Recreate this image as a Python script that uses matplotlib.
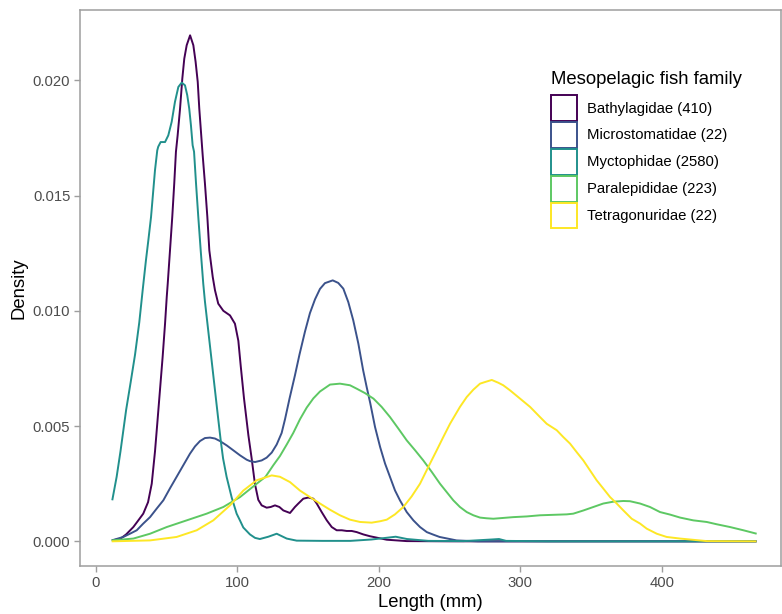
import matplotlib
matplotlib.use("Agg")
import matplotlib.pyplot as plt
from matplotlib.patches import Patch
from matplotlib.ticker import FormatStrFormatter

plt.rcParams['font.family'] = ['Liberation Sans', 'DejaVu Sans']

legend_title = "Mesopelagic fish family"
families = ["Bathylagidae (410)", "Microstomatidae (22)", "Myctophidae (2580)",
            "Paralepididae (223)", "Tetragonuridae (22)"]
colors = ["#440154", "#3B528B", "#21908C", "#5DC863", "#FDE725"]

bathy_x = [11.5, 17.2, 21.5, 26.6, 30.0, 33.6, 37.0, 39.6, 41.9, 43.5, 45.4, 47.3, 49.0, 50.2,
           50.9, 52.5, 54.1, 55.5, 56.7, 57.9, 59.6, 61.2, 62.6, 64.3, 66.7, 69.0, 70.6,
           72.1, 73.2, 74.4, 75.6, 77.2, 78.9, 80.3, 82.7, 84.3, 86.6, 90.2, 94.9, 98.4,
           100.8, 102.5, 104.8, 107.9, 110.2, 112.5, 114.9, 117.3, 120.8, 123.7,
           126.7, 129.8, 132.6, 137.3, 140.8, 143.2, 146.7, 150.2, 153.8, 156.2, 159.7,
           163.3, 166.8, 170.3, 173.9, 177.4, 180.9, 184.5, 189.1, 193.9, 205.7, 219.8,
           250, 300, 400, 467]
bathy_y = [0.00004, 0.0001, 0.0003, 0.00062, 0.0009, 0.0012, 0.0017, 0.0025, 0.0039, 0.0051,
           0.00655, 0.008, 0.00944, 0.0106, 0.01118, 0.01262, 0.01407, 0.01552, 0.0169,
           0.01761, 0.01877, 0.02007, 0.02094, 0.02152, 0.02195, 0.02152, 0.0208, 0.01993,
           0.01877, 0.01776, 0.01675, 0.01552, 0.01407, 0.01262, 0.01147, 0.01089, 0.01031,
           0.0100, 0.0098, 0.00944, 0.0087, 0.0076, 0.0062, 0.0046, 0.0036, 0.0025,
           0.0018, 0.00156, 0.00146, 0.00149, 0.00156, 0.00149, 0.00134, 0.00123,
           0.00149, 0.00164, 0.00185, 0.0019, 0.00185, 0.00164, 0.00127, 0.00091, 0.00062,
           0.00048, 0.00048, 0.00045, 0.00045, 0.0004, 0.0003, 0.00022, 0.00007, 0.00001,
           0, 0, 0, 0]

micro_x = [11.3, 19.5, 24.2, 29, 33.6, 38.4, 43.1, 47.8, 52.5, 57.2, 61.9, 66.6, 70.2, 73.7,
           77.2, 80.8, 84.3, 87.8, 92.6, 97.2, 102, 106.7, 109, 112.6, 117.3, 120.8, 124.4,
           127.9, 131.4, 133.8, 137, 140.8, 144, 147.9, 151.4, 155, 158.5, 162, 167.5,
           171.4, 175, 178.5, 182, 185.6, 189, 191.5, 194, 197.4, 201, 204.5, 208, 211.5,
           215, 219.8, 224.5, 229.2, 234, 238.6, 243, 255, 270, 300, 400, 467]
micro_y = [0.00004, 0.00019, 0.00033, 0.00048, 0.00077, 0.00105, 0.00142, 0.00178, 0.0023,
           0.0028, 0.0033, 0.0038, 0.00412, 0.00435, 0.00448, 0.0045, 0.00446, 0.00435,
           0.00416, 0.00395, 0.00373, 0.00354, 0.00348, 0.00344, 0.00351, 0.00363, 0.00385,
           0.0042, 0.0047, 0.0053, 0.0062, 0.0072, 0.0081, 0.0091, 0.0099, 0.0105,
           0.01095, 0.0112, 0.01132, 0.01121, 0.01096, 0.01038, 0.00959, 0.00858, 0.00742,
           0.00669, 0.006, 0.00496, 0.00409, 0.00337, 0.00279, 0.00221, 0.00178, 0.00127,
           0.00091, 0.00062, 0.0004, 0.00029, 0.00019, 0.00004, 0.0, 0.0, 0.0, 0.0]

mycto_x = [11.7, 14.8, 17.5, 21.5, 24.7, 27.8, 30.8, 33.2, 35.5, 37.2, 39.1, 40.7, 41.9,
           43.5, 44.2, 45.9, 49.0, 51.3, 53.7, 56.0, 58.4, 60.8, 63.1, 64.7, 66.1, 67.3,
           68.5, 69.5, 70.9, 72.5, 74.2, 76.0, 77.2, 79.6, 82.0, 84.3, 86.6, 88.3, 90.0,
           92.5, 96.1, 99.6, 102, 104.3, 109, 112.6, 116, 122, 127.9, 135, 142, 160, 180,
           195, 205, 212, 220, 235, 260, 280, 285, 290, 320, 400, 467]
mycto_y = [0.00178, 0.0028, 0.0039, 0.0057, 0.0069, 0.0081, 0.0095, 0.0109, 0.01219,
           0.01306, 0.01407, 0.01523, 0.0161, 0.01696, 0.01712, 0.01732, 0.01732, 0.01761,
           0.0182, 0.01906, 0.01971, 0.0199, 0.01978, 0.01935, 0.01877, 0.01805, 0.01718,
           0.0169, 0.01552, 0.01407, 0.01262, 0.01118, 0.0104, 0.0091, 0.0078, 0.00655,
           0.0053, 0.0044, 0.0036, 0.0028, 0.0019, 0.0012, 0.0009, 0.0006, 0.0003, 0.00015,
           0.0001, 0.0002, 0.00033, 0.00012, 0.00003, 0.00002, 0.00002, 0.00008, 0.00015,
           0.0002, 0.0001, 0.00002, 0.00001, 0.00008, 0.0001, 0.00002, 0.0, 0.0, 0.0]

para_x = [11.3, 26.6, 38.4, 50.2, 64.3, 78.4, 90.2, 102, 113.8, 120, 125.5, 130.2, 135,
          139.6, 144.4, 149.1, 153.8, 158.5, 165.6, 172.6, 179.7, 184.5, 190.3, 196.3, 202.1,
          208, 213.9, 219.8, 225.7, 231.5, 237.5, 243.3, 248, 252.7, 257.4, 262.2, 266.9,
          271.6, 276.3, 281, 295.1, 304.6, 314, 332.9, 337.5, 344.7, 351.7, 358.7, 365.8,
          372.9, 377.6, 384.7, 391.7, 398.8, 405.9, 413, 422.3, 431.8, 438.9, 448.3,
          457.7, 467.1]
para_y = [0.00004, 0.00012, 0.00033, 0.00062, 0.00091, 0.0012, 0.00149, 0.00192, 0.0025,
          0.0028, 0.0033, 0.0037, 0.0042, 0.0047, 0.0053, 0.0058, 0.0062, 0.0065, 0.0068,
          0.00684, 0.00677, 0.00662, 0.00643, 0.00619, 0.00583, 0.00539, 0.00489, 0.00438,
          0.00395, 0.00351, 0.00301, 0.0025, 0.00214, 0.00178, 0.00149, 0.00127, 0.00113,
          0.00103, 0.001, 0.00098, 0.00105, 0.00108, 0.00113, 0.00117, 0.0012, 0.00134,
          0.00149, 0.00164, 0.00172, 0.00175, 0.00174, 0.00164, 0.00149, 0.00127, 0.00116,
          0.00103, 0.00091, 0.00084, 0.00074, 0.00062, 0.00048, 0.00033]

tetra_x = [11.3, 38.4, 57.2, 71.4, 83.1, 94.9, 104.3, 113.8, 124.4, 130.2, 137.3, 144.4,
           151.4, 158.5, 165.6, 172.6, 179.7, 186.8, 195, 200.9, 205.7, 211.5, 217.4, 223.3,
           229.2, 235, 241, 245.6, 250.4, 257.4, 262.2, 266.9, 271.6, 275.1, 279.9, 284.5,
           288, 292.8, 299.9, 307, 314, 318.7, 325.8, 330.5, 335.2, 339.9, 344.6, 349.3,
           354, 358.7, 363.5, 368.2, 372.9, 378.8, 384.7, 389.4, 396.5, 403.5, 413, 431.8,
           467]
tetra_y = [0.0, 0.00004, 0.00019, 0.00048, 0.00091, 0.00156, 0.0022, 0.00265, 0.00286,
           0.0028, 0.00257, 0.0022, 0.00192, 0.00164, 0.00137, 0.00113, 0.00094, 0.00084,
           0.00081, 0.00087, 0.00094, 0.00117, 0.00149, 0.00195, 0.0025, 0.00322, 0.00395,
           0.00452, 0.0051, 0.00583, 0.00626, 0.00658, 0.00684, 0.00691, 0.007, 0.00688,
           0.00677, 0.00655, 0.00619, 0.00583, 0.00539, 0.0051, 0.00482, 0.00452, 0.00424,
           0.00387, 0.00351, 0.00308, 0.00265, 0.00229, 0.00192, 0.00164, 0.00134, 0.00098,
           0.00077, 0.00055, 0.00033, 0.00019, 0.00012, 0.00001, 0.0]

series = [(bathy_x, bathy_y), (micro_x, micro_y), (mycto_x, mycto_y),
          (para_x, para_y), (tetra_x, tetra_y)]

x_ticks = [0, 100, 200, 300, 400]
y_ticks = [0.000, 0.005, 0.010, 0.015, 0.020]

W, H = 782, 614
fig = plt.figure(figsize=(W / 100, H / 100), dpi=100)
ax = fig.add_axes([80 / W, 1 - 566 / H, (781 - 80) / W, (566 - 9.5) / H])

for (xs, ys), c in zip(series, colors):
    ax.plot(xs, ys, color=c, lw=1.4, solid_joinstyle='round', solid_capstyle='butt')

ax.set_xlim(-11.1, 484.3)
ax.set_ylim(-0.00107, 0.02307)
ax.set_xticks(x_ticks)
ax.set_yticks(y_ticks)
ax.yaxis.set_major_formatter(FormatStrFormatter('%.3f'))

gray = '#9E9E9E'
for s in ax.spines.values():
    s.set_color(gray)
    s.set_linewidth(1.1)
ax.tick_params(axis='both', colors=gray, length=4, width=1.0, labelsize=10.7,
               labelcolor='#4D4D4D', pad=3)
ax.set_xlabel('Length (mm)', fontsize=13.3, color='black', labelpad=3)
ax.set_ylabel('Density', fontsize=13.3, color='black', labelpad=4)

fig.text(551 / W, 1 - 83.5 / H, legend_title, fontsize=13.3, color='black',
         ha='left', va='baseline')
handles = [Patch(facecolor='white', edgecolor=c, linewidth=1.4) for c in colors]
leg = ax.legend(handles, families,
                loc='upper left', bbox_to_anchor=(551 / W, 1 - 95 / H),
                bbox_transform=fig.transFigure, frameon=False, fontsize=10.7,
                handlelength=1.75, handleheight=2.3,
                labelspacing=0.07, handletextpad=0.67, borderpad=0.0,
                borderaxespad=0)

fig.savefig('out.png', dpi=100)
